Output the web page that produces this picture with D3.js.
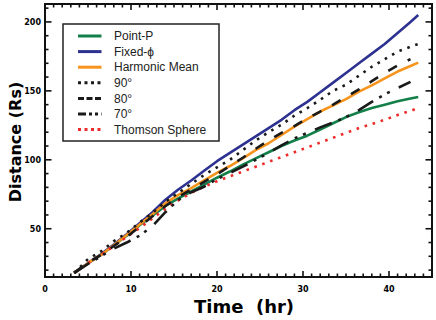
<!DOCTYPE html>
<html>
<head>
<meta charset="utf-8">
<script src="https://cdn.jsdelivr.net/npm/d3@7"></script>
<style>
  body { margin: 0; background: #fff; }
  svg { display: block; }
</style>
</head>
<body>
<svg width="436" height="320"></svg>
<script>
// time samples (hr) shared by all series
const times = [3.4, 5, 6.5, 8, 9.5, 11, 12.5, 14, 15.5, 17, 18.5, 20, 21.5, 23, 24.5, 26, 27.5, 29, 30.5, 32, 33.5, 35, 36.5, 38, 39.5, 41, 42.5, 43.4];

// distances (Rs)
const pointP   = [18, 25, 31, 38, 45, 52.5, 59.5, 66.5, 72, 77, 82, 87, 91.5, 96.5, 101, 105.5, 110, 114, 117.5, 122, 126.5, 131, 134.5, 137.5, 140, 142.5, 144.5, 145.5];
const fixedPhi = [18, 25, 31.5, 38.5, 46, 54, 62, 71, 78.5, 85, 92, 99, 105, 111, 117, 123, 129, 136, 142, 149, 156, 163, 170, 177, 184, 192, 200, 205];
const harmonic = [18, 25, 31, 38, 45.5, 53, 60.5, 68.5, 74.5, 79.5, 85, 90.5, 95.5, 101, 107, 112, 118, 124, 129.5, 135, 139.5, 144, 149.5, 154, 159, 164, 168, 170.5];
const deg90    = [18, 28, 33.5, 41, 47, 54.5, 61.5, 69.5, 76, 82.5, 89, 94.5, 100, 107, 114, 120, 125.5, 132, 137.5, 143.5, 150, 154.5, 161, 167.5, 173, 178.5, 182, 184];
const deg80    = [18, 25.5, 31, 37.5, 44, 51.5, 59, 66.5, 73, 78.5, 84, 89.5, 95.5, 101.5, 108, 114, 119.5, 124.5, 130, 135, 140, 145.5, 151, 157, 163, 168.5, 173, null];
const deg70    = [18, 24.5, 30, 35.5, 40, 45, 52, 62, 71, 76.5, 80.5, 86, 90.5, 95, 100, 105, 110.5, 115.5, 119.5, 123.5, 127, 131, 136, 142, 147.5, 152, 156.5, null];
const thomson  = [18, 25, 31, 37.5, 44, 50.5, 57.5, 64.5, 70.5, 76, 80.5, 84.5, 88, 91.5, 95, 98.5, 102, 105.5, 109, 112.5, 116, 119.5, 123, 126, 129, 132.5, 135.5, 137.5];

const xTicks = [0, 10, 20, 30, 40];
const yTicks = [50, 100, 150, 200];

const svg = d3.select("svg");

// plot frame in pixels
const plotLeft = 45, plotRight = 432, plotTop = 4, plotBottom = 277;

const x = d3.scaleLinear().domain([0, 45]).range([plotLeft, plotRight]);
const y = d3.scaleLinear().domain([15, 213]).range([plotBottom, plotTop]);

// series styling, in drawing order
const series = [
  { label: "Point-P", values: pointP, color: "#13804a", width: 2.6, dash: null, legendDash: null },
  { label: "Fixed-\u03D5", values: fixedPhi, color: "#2d3190", width: 2.6, dash: null, legendDash: null },
  { label: "Harmonic Mean", values: harmonic, color: "#f7941d", width: 2.6, dash: null, legendDash: null },
  { label: "Thomson Sphere", values: thomson, color: "#ee2a2a", width: 2.6, dash: "2.6,5.8", legendDash: "3,3.5" },
  { label: "90\u00B0", values: deg90, color: "#1a1a1a", width: 2.6, dash: "2.6,5.8", legendDash: "3,3.5" },
  { label: "80\u00B0", values: deg80, color: "#1a1a1a", width: 2.6, dash: "10,12", legendDash: "6,2.5" },
  { label: "70\u00B0", values: deg70, color: "#1a1a1a", width: 2.6, dash: "18,7,3,6,3,10", legendDash: "8,3,3,3,3,3" }
];

// lines
const line = d3.line()
  .defined(d => d[1] != null)
  .x(d => x(d[0]))
  .y(d => y(d[1]));

series.forEach(s => {
  svg.append("path")
    .datum(times.map((t, i) => [t, s.values[i]]))
    .attr("fill", "none")
    .attr("stroke", s.color)
    .attr("stroke-width", s.width)
    .attr("stroke-dasharray", s.dash)
    .attr("stroke-linejoin", "round")
    .attr("d", line);
});

// frame
svg.append("rect")
  .attr("x", plotLeft).attr("y", plotTop)
  .attr("width", plotRight - plotLeft).attr("height", plotBottom - plotTop)
  .attr("fill", "none")
  .attr("stroke", "#111")
  .attr("stroke-width", 2);

// inward ticks on all four sides
const xMinor = d3.range(1, 45);
const yMinor = d3.range(20, 211, 10);

const tickG = svg.append("g").attr("stroke", "#111").attr("stroke-width", 1.6);
xMinor.forEach(v => {
  const len = v % 10 === 0 ? 6 : 3.5;
  tickG.append("line").attr("x1", x(v)).attr("x2", x(v)).attr("y1", plotBottom).attr("y2", plotBottom - len);
  tickG.append("line").attr("x1", x(v)).attr("x2", x(v)).attr("y1", plotTop).attr("y2", plotTop + len);
});
yMinor.forEach(v => {
  const len = v % 50 === 0 ? 6.5 : 3.5;
  tickG.append("line").attr("x1", plotLeft).attr("x2", plotLeft + len).attr("y1", y(v)).attr("y2", y(v));
  tickG.append("line").attr("x1", plotRight).attr("x2", plotRight - len).attr("y1", y(v)).attr("y2", y(v));
});

// tick labels
svg.append("g").selectAll("text")
  .data(xTicks)
  .enter().append("text")
  .attr("x", d => x(d))
  .attr("y", 292)
  .attr("text-anchor", "middle")
  .attr("font-family", "DejaVu Sans")
  .attr("font-weight", "bold")
  .attr("font-size", "8px")
  .text(d => d);

svg.append("g").selectAll("text")
  .data(yTicks)
  .enter().append("text")
  .attr("x", 41)
  .attr("y", d => y(d) + 3)
  .attr("text-anchor", "end")
  .attr("font-family", "DejaVu Sans")
  .attr("font-weight", "bold")
  .attr("font-size", "8px")
  .text(d => d);

// axis titles
svg.append("text")
  .attr("x", 244)
  .attr("y", 313)
  .attr("text-anchor", "middle")
  .attr("font-family", "DejaVu Sans")
  .attr("font-weight", "bold")
  .attr("font-size", "18px")
  .style("white-space", "pre")
  .text("Time  (hr)");

svg.append("text")
  .attr("transform", "translate(21, 142) rotate(-90)")
  .attr("text-anchor", "middle")
  .attr("font-family", "DejaVu Sans")
  .attr("font-weight", "bold")
  .attr("font-size", "16px")
  .text("Distance (Rs)");

// legend
const legendOrder = ["Point-P", "Fixed-\u03D5", "Harmonic Mean", "90\u00B0", "80\u00B0", "70\u00B0", "Thomson Sphere"];
const legend = svg.append("g");

legend.append("rect")
  .attr("x", 63).attr("y", 24)
  .attr("width", 156).attr("height", 117)
  .attr("fill", "#fff")
  .attr("stroke", "#222")
  .attr("stroke-width", 1.5);

legendOrder.forEach((name, i) => {
  const s = series.find(d => d.label === name);
  const ly = 36 + i * 15.6;
  legend.append("line")
    .attr("x1", 78).attr("x2", 101.5)
    .attr("y1", ly).attr("y2", ly)
    .attr("stroke", s.color)
    .attr("stroke-width", 3)
    .attr("stroke-dasharray", s.legendDash);
  legend.append("text")
    .attr("x", 114)
    .attr("y", ly + 4.2)
    .attr("font-family", "Liberation Sans, Arial, sans-serif")
    .attr("font-size", "12px")
    .attr("fill", "#222")
    .text(name);
});
</script>
</body>
</html>
